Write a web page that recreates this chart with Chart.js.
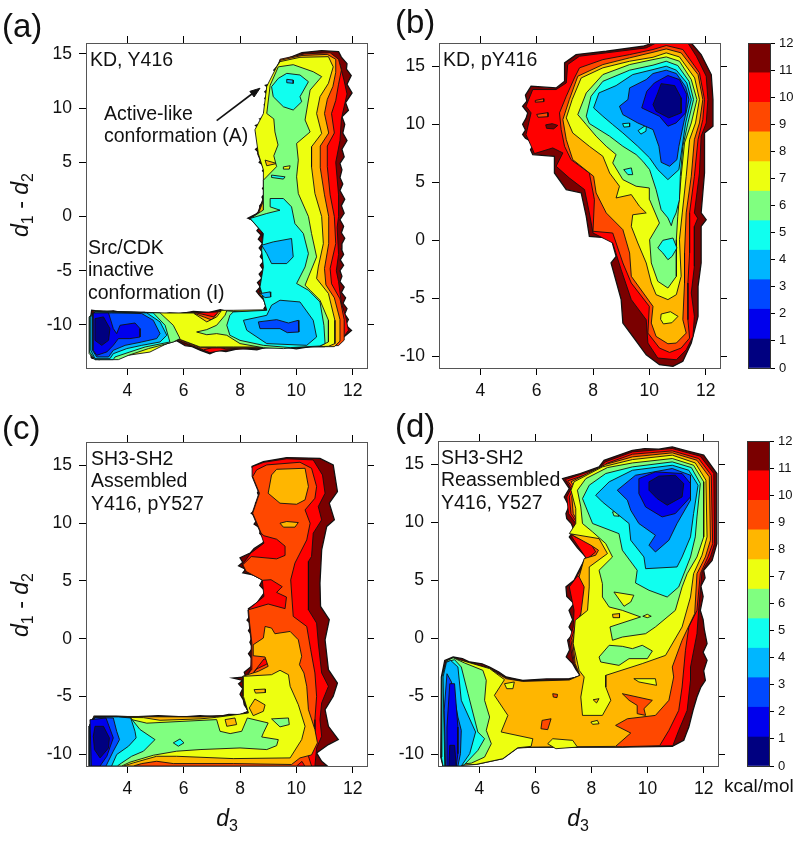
<!DOCTYPE html>
<html>
<head>
<meta charset="utf-8">
<title>Free energy landscapes</title>
<script src="https://cdn.jsdelivr.net/npm/chart.js@4"></script>
<style>
  html, body { margin: 0; padding: 0; background: #fff; }
  body { position: relative; width: 800px; height: 845px; overflow: hidden; font-family: "Liberation Sans", Arial, sans-serif; color: #111; }
  canvas { position: absolute; }
  .note { position: absolute; font-size: 19.5px; line-height: 22.3px; white-space: nowrap; }
  .letter { position: absolute; font-size: 33px; line-height: 33px; }
  .title { position: absolute; font-size: 23px; white-space: nowrap; transform: translate(-50%, -50%); }
  .title.rot { transform: translate(-50%, -50%) rotate(-90deg); }
  .title sub { font-size: 16px; }
</style>
</head>
<body>
<canvas id="chartA"></canvas>
<canvas id="chartB"></canvas>
<canvas id="chartC"></canvas>
<canvas id="chartD"></canvas>
<canvas id="barTop"></canvas>
<canvas id="barBottom"></canvas>

<div class="letter" style="left:2px;top:9px">(a)</div>
<div class="letter" style="left:395px;top:5px">(b)</div>
<div class="letter" style="left:2px;top:411px">(c)</div>
<div class="letter" style="left:395px;top:409px">(d)</div>

<div class="note" style="left:90px;top:48px">KD, Y416</div>
<div class="note" style="left:104px;top:102px">Active-like<br>conformation (A)</div>
<div class="note" style="left:88px;top:236px">Src/CDK<br>inactive<br>conformation (I)</div>
<div class="note" style="left:443px;top:48px">KD, pY416</div>
<div class="note" style="left:91px;top:447px">SH3-SH2<br>Assembled<br>Y416, pY527</div>
<div class="note" style="left:441px;top:446px">SH3-SH2<br>Reassembled<br>Y416, Y527</div>

<div class="title rot" style="left:22px;top:205px"><i>d</i><sub>1</sub> - <i>d</i><sub>2</sub></div>
<div class="title rot" style="left:22px;top:605px"><i>d</i><sub>1</sub> - <i>d</i><sub>2</sub></div>
<div class="title" style="left:227px;top:820px"><i>d</i><sub>3</sub></div>
<div class="title" style="left:578px;top:820px"><i>d</i><sub>3</sub></div>
<div class="note" style="left:724px;top:775px;font-size:19px">kcal/mol</div>

<script>
// ---------- Axes ----------
const xTicks = [4, 6, 8, 10, 12];
const xRange = [2.53, 12.51];
const yTicks = [-10, -5, 0, 5, 10, 15];
const yRangeA = [-13.97, 16];
const yRange = [-11, 17];
const barTicks = [0, 1, 2, 3, 4, 5, 6, 7, 8, 9, 10, 11, 12];
const barEdges = [0, 1.07, 2.17, 3.26, 4.35, 5.44, 6.53, 7.62, 8.72, 9.81, 10.9, 12];

// one colour per energy band, lowest first
const bandColors = ['#000080', '#0000ED', '#0048FF', '#00B6FF', '#10FFEF', '#80FF80',
  '#EDFF10', '#FFB600', '#FF4800', '#FF0000', '#7A0000'];

// ---------- Contours: [band, [x, y, x, y, ...]], painted in this order ----------
const contoursA = [
  [10, [2.72,-13.05, 3,-13.2, 3.2,-13.05, 3.5,-12.9, 4,-12.55, 4.5,-12.3, 5.1,-11.95, 5.75,-11.45, 6.05,-11.9, 6.3,-12, 6.6,-12.35, 6.93,-12.65, 7.2,-12.35, 7.5,-12.45, 8,-12.15, 8.6,-12.3, 9,-12, 9.6,-12.05, 10,-12.2, 10.5,-12, 11,-12, 11.55,-11.4, 11.96,-10.5, 11.75,-10, 11.85,-9.5, 11.72,-9, 11.8,-8.5, 11.66,-8, 11.75,-7.5, 11.6,-7, 11.7,-6.5, 11.55,-6, 11.62,-5.5, 11.55,-5, 11.68,-4.5, 11.56,-4, 11.68,-3.5, 11.6,-3, 11.62,-2.5, 11.72,-2, 11.6,-1.5, 11.68,-0.9, 11.55,-0.3, 11.7,0.3, 11.6,1, 11.72,1.6, 11.55,2.4, 11.65,3, 11.55,3.6, 11.62,4.3, 11.55,4.9, 11.7,5.5, 11.62,6.2, 11.8,7, 11.65,7.7, 11.72,8.5, 11.62,9.2, 11.85,9.8, 11.75,10.5, 11.98,11.4, 11.8,12.2, 11.95,13, 11.78,13.6, 11.8,14.1, 11.6,14.7, 11.5,15.2, 10.9,15.3, 10.2,15.1, 9.42,14.3, 9.3,13.8, 9.2,13.5, 9.36,13.2, 9.3,12.75, 9.1,12.5, 9.2,12.3, 8.9,12.1, 9.02,11.8, 8.88,11.5, 9,11.2, 8.88,10.9, 8.98,10.6, 8.86,10.3, 8.96,10, 8.86,9.6, 8.98,9.3, 8.7,9, 8.85,8.7, 8.55,8.4, 8.72,8, 8.56,7.7, 8.72,7.3, 8.62,7, 8.75,6.6, 8.55,6.2, 8.7,5.8, 8.8,5.4, 8.68,5, 8.9,4.6, 8.8,4.2, 9,3.8, 8.85,3.4, 8.95,3, 8.8,2.6, 8.9,2.2, 8.78,1.8, 8.85,1.4, 8.7,1, 8.72,0.5, 8.55,0.2, 8.28,-0.15, 8.6,-0.5, 8.72,-0.9, 8.6,-1.3, 8.75,-1.7, 8.65,-2.1, 8.8,-2.5, 8.68,-2.9, 8.8,-3.3, 8.72,-3.7, 8.85,-4.1, 8.72,-4.5, 8.82,-4.9, 8.68,-5.3, 8.78,-5.7, 8.62,-6.1, 8.72,-6.5, 8.58,-6.9, 8.7,-7.3, 8.85,-7.7, 8.95,-8.1, 8.85,-8.5, 8.95,-8.85, 8.47,-9.4, 7.9,-9.4, 7.7,-9.15, 7.53,-8.75, 7.3,-8.6, 6.9,-8.85, 6.34,-8.75, 5.9,-8.95, 5.5,-8.9, 5,-9.1, 4.6,-8.85, 4,-8.95, 3.5,-8.7, 3.2,-8.8, 2.73,-8.65, 2.66,-10, 2.66,-12]],
  [9, [2.75,-12.95, 3.2,-13, 3.6,-12.7, 4.5,-12.25, 5.75,-11.4, 6.3,-11.95, 6.93,-12.55, 7.5,-12.3, 8.6,-12.15, 10,-12.05, 11.5,-11.75, 11.85,-10.5, 11.75,-9.2, 11.6,-8, 11.5,-6, 11.42,-5, 11.5,-3.5, 11.45,-1, 11.5,0, 11.5,2, 11.4,5, 11.55,7, 11.6,9, 11.8,11.3, 11.7,12.5, 11.55,14, 11.3,14.9, 10.8,15.1, 10,14.8, 9.45,14.2, 9.32,13.8, 9.38,12.75, 8.97,12.1, 8.97,11, 8.92,9.5, 8.62,8.3, 8.72,7, 8.62,5.8, 8.85,4.3, 9,3.5, 8.87,2, 8.62,0.3, 8.32,-0.2, 8.72,-0.7, 8.77,-1.5, 8.82,-3, 8.87,-4.5, 8.72,-6.2, 8.67,-7.2, 8.95,-8, 8.95,-8.75, 8.47,-9.35, 7.9,-9.35, 7.53,-8.75, 6.8,-8.85, 6.34,-8.85, 5,-9.1, 4,-8.95, 3.2,-8.75, 2.75,-8.9, 2.68,-10]],
  [8, [2.75,-12.9, 3.2,-12.95, 3.6,-12.65, 4.5,-12.2, 5.75,-11.35, 6.3,-11.9, 6.7,-12.3, 7,-12.1, 7.3,-12.1, 7.5,-12.2, 8.6,-12.1, 10,-12.05, 11.5,-11.9, 11.7,-11.4, 11.7,-9.5, 11.55,-7.6, 11.25,-6.2, 11.2,-4.8, 11.4,-2.5, 11.35,0, 11.2,2, 11.1,4.6, 11.1,6.5, 11.35,7.7, 11.25,9.5, 11.4,10.7, 11.5,12.2, 11.6,13.5, 11.5,14.5, 11.2,15.1, 10.3,15, 9.42,14.5, 9.34,13.8, 9.4,12.75, 8.99,12.1, 8.99,11, 8.94,9.5, 8.64,8.3, 8.74,7, 8.64,5.8, 8.87,4.3, 9,3.5, 8.89,2, 8.64,0.3, 8.34,-0.2, 8.74,-0.7, 8.79,-1.5, 8.84,-3, 8.89,-4.5, 8.74,-6.2, 8.69,-7.2, 8.95,-8, 8.95,-8.7, 8.47,-9.3, 7.9,-9.3, 7.53,-8.8, 7.3,-8.75, 7.05,-9.25, 6.65,-9, 6.34,-8.85, 5,-9.1, 4,-8.95, 3.2,-8.8, 2.75,-8.95, 2.68,-10]],
  [7, [2.75,-12.85, 3.2,-12.9, 3.6,-12.6, 4.5,-12.15, 5.7,-11.2, 5.8,-11.3, 6.3,-11.8, 6.6,-12.1, 7.5,-12.1, 8.6,-12.1, 10,-12.03, 11.35,-12, 11.55,-11.5, 11.55,-9.5, 11.35,-7.5, 11.05,-6.3, 11,-4.8, 11.15,-2.5, 11.15,0, 11,2, 10.85,4.5, 10.85,6.5, 11.15,7.7, 11,9.5, 11.1,10.8, 11.3,12, 11.4,13.3, 11.4,14.5, 11.1,14.95, 10.2,14.85, 9.42,14.4, 9.36,13.8, 9.42,12.75, 9.01,12.1, 9.01,11, 8.96,9.5, 8.66,8.3, 8.76,7, 8.66,5.8, 8.89,4.3, 9,3.5, 8.91,2, 8.66,0.3, 8.36,-0.2, 8.76,-0.7, 8.81,-1.5, 8.86,-3, 8.91,-4.5, 8.76,-6.2, 8.71,-7.2, 8.95,-8, 8.95,-8.65, 8.47,-9.25, 7.9,-9.25, 7.53,-8.8, 7.25,-8.75, 7,-9.55, 6.75,-9.3, 6.3,-8.85, 5,-9.1, 4,-9, 3.2,-8.85, 2.75,-9, 2.68,-10]],
  [6, [9.42,14.28, 10.13,14.68, 11.14,14.74, 11.31,13.8, 11.14,12.28, 10.84,11.05, 10.72,9.5, 10.9,7.66, 10.54,6.43, 10.54,4.58, 10.66,2.12, 10.9,0, 10.96,-2.5, 10.78,-4.65, 10.72,-5.72, 11.14,-7.1, 11.37,-9.57, 11.37,-11.72, 11.14,-11.97, 9.54,-12.05, 8.47,-12.03, 7.76,-12.03, 7.17,-12.03, 6.58,-12.03, 6.11,-11.57, 5.63,-11.1, 5.4,-11.72, 4.8,-12.5, 3.5,-13, 2.85,-13.1, 2.67,-12.6, 2.67,-9.26, 2.85,-8.7, 4.2,-8.8, 5.4,-8.9, 6.34,-8.9, 6.82,-9.72, 7.17,-9.26, 7.35,-8.65, 7.76,-8.65, 8.95,-8.6, 8.71,-6.5, 8.83,-4.65, 8.83,3.66, 8.83,4.3, 8.65,5.8, 8.53,8, 8.83,9.5, 8.95,12, 9.3,13.8]],
  [7, [8.89,5.2, 9.3,4.89, 8.95,4.68]],
  [5, [9.36,13.8, 9.89,14, 10.6,13.35, 10.9,12.9, 10.49,11.66, 10.43,10.74, 10.31,8.9, 10.49,7.8, 10.01,6.74, 10.07,5.2, 10.01,3.66, 10.07,2.12, 10.43,0, 10.54,-1.57, 10.72,-3.72, 10.43,-5.57, 10.31,-6.34, 10.49,-6.8, 10.84,-7.72, 11.14,-9.57, 11.14,-11.57, 10.84,-11.94, 9.54,-12.18, 8.83,-12.1, 8,-11.72, 7.53,-10.95, 7.17,-10.8, 6.82,-10.9, 6.46,-10.65, 6.82,-10.43, 7.17,-10.03, 7.47,-9.1, 7.53,-8.7, 8,-8.8, 8.95,-8.65, 8.71,-6.5, 8.83,-4.65, 8.77,-3.1, 8.83,-1.57, 8.36,-0.2, 8.83,0.6, 8.83,1.8, 8.83,3.35, 9.3,4.6, 9.2,5.6, 9.35,6.6, 9.24,7.8, 9.2,9, 8.95,9.5, 9.07,12.1]],
  [5, [5.16,-8.89, 5.63,-10.03, 5.87,-11.26, 5.63,-11.57, 4.75,-12.18, 4.04,-12.8, 3.68,-13.2, 2.85,-13.2, 2.64,-12.64, 2.64,-9.26, 2.85,-8.7]],
  [6, [9.54,4.58, 9.78,4.68, 9.75,4.37, 9.56,4.37]],
  [4, [9.12,3.82, 9.6,3.66, 9.54,3.45, 9.12,3.6]],
  [4, [9.12,11.97, 9.36,12.74, 9.66,13.2, 10.13,13.05, 10.43,12.43, 10.13,11.05, 10.19,10.58, 9.89,9.82, 9.54,10.12, 9.18,11.05]],
  [4, [9.07,1.66, 9.54,1.66, 9.83,0.89, 9.95,-0.65, 10.25,-1.57, 10.43,-3.42, 10.31,-4.65, 10.01,-6.18, 10.43,-6.8, 10.84,-7.88, 10.98,-10.03, 11.02,-11.72, 10.84,-11.94, 9.78,-12.09, 8.83,-11.88, 8,-11.42, 7.64,-10.95, 7.53,-10.03, 7.64,-9.11, 7.76,-8.8, 8.95,-8.65, 8.71,-6.49, 8.83,-4.65, 8.77,-3.11, 8.83,-1.57, 8.36,-0.18, 8.95,0.28, 9.42,0.58, 9.07,0.89]],
  [4, [4.92,-8.89, 5.34,-10.03, 5.51,-11.57, 4.63,-12.03, 4.09,-12.49, 3.56,-12.95, 3.5,-13.2, 2.85,-13.2, 2.66,-12.5, 2.66,-9.3, 2.85,-8.75]],
  [3, [9.66,12.65, 9.89,12.58, 9.89,12.28, 9.66,12.34]],
  [3, [8.77,-2.65, 9.18,-2.34, 9.83,-2.03, 9.89,-3.72, 9.66,-4.34, 9.12,-4.34, 8.95,-3.42]],
  [3, [8.71,-7.11, 9.07,-6.95, 9.09,-7.42, 8.89,-7.48]],
  [3, [9.42,-7.72, 10.13,-7.88, 10.6,-9.57, 10.72,-11.11, 10.37,-11.88, 8.95,-11.72, 8.24,-10.49, 8.12,-9.57, 8.95,-9.11, 9.12,-8.18]],
  [3, [4.69,-8.89, 5.16,-9.72, 5.4,-10.95, 5.16,-11.57, 4.51,-11.88, 3.98,-12.18, 3.5,-12.65, 3.38,-13.11, 2.85,-13.11, 2.7,-12.34, 2.7,-9.26, 2.85,-8.8]],
  [2, [8.65,-9.72, 9.3,-9.51, 9.72,-9.82, 10.07,-9.57, 10.09,-10.65, 9.68,-10.71, 9.42,-10.34, 8.71,-10.34]],
  [2, [2.76,-8.95, 3.44,-8.89, 4.51,-8.95, 4.92,-9.57, 5.16,-10.8, 5.04,-11.26, 4.51,-11.57, 3.92,-11.88, 3.5,-12.34, 3.33,-12.95, 2.91,-12.95, 2.76,-12.34]],
  [1, [2.79,-8.89, 3.33,-8.89, 3.5,-10.34, 3.62,-10.8, 3.74,-10.03, 4.27,-9.82, 4.45,-10.34, 4.45,-11.11, 4.09,-11.26, 3.68,-11.26, 3.5,-11.88, 3.27,-12.49, 2.91,-12.8, 2.79,-12.34]],
  [0, [2.85,-9.42, 3.15,-9.26, 3.38,-10.34, 3.33,-11.42, 3.09,-11.88, 2.85,-11.42]],
];

const contoursB = [
  [10, [11.49,17, 11.84,16, 12.2,14.28, 12.26,12.13, 12.26,9.83, 11.96,9.25, 11.96,5.8, 11.84,2.36, 12.02,1.78, 11.84,1.2, 11.84,-1.95, 11.73,-3.97, 11.73,-6.55, 11.49,-8.85, 11.19,-10.43, 10.84,-10.86, 10.36,-10.72, 9.89,-9.86, 9.41,-8.28, 9.06,-7.13, 9,-5.11, 8.64,-1.95, 8.82,-1.38, 8.64,0.2, 7.87,0.34, 7.76,2.07, 7.58,4.08, 7.05,4.37, 6.63,5.8, 6.63,7.24, 5.86,7.39, 5.78,7.8, 5.9,8.39, 5.6,8.8, 5.5,9.11, 5.6,9.5, 5.5,10, 5.62,10.5, 5.68,10.98, 5.5,11.55, 5.65,12, 5.6,12.5, 5.8,13.28, 6.69,13.13, 6.99,13.7, 6.99,15.29, 7.4,16, 8.47,16.29, 9.77,16.72, 10.13,17]],
  [9, [11.37,17, 11.67,15.86, 12.02,14.14, 12.08,12.13, 12.02,10.11, 11.84,8.97, 11.78,5.8, 11.6,2.36, 11.72,1.9, 11.6,1.2, 11.6,-2.24, 11.49,-4.54, 11.6,-6.55, 11.55,-8.28, 11.31,-9.43, 10.96,-10.29, 10.3,-10.14, 9.95,-8.85, 9.89,-6.84, 9.36,-5.11, 9,-2.53, 8.7,-0.23, 8,0.63, 7.87,2.36, 7.7,4.37, 7.16,5.37, 6.69,6.38, 6.93,7.53, 6.57,7.96, 5.92,7.47, 5.62,9.11, 5.8,10.98, 5.62,11.55, 5.86,12.99, 6.69,12.99, 7.05,13.56, 7.1,15.14, 7.52,15.86, 8.47,16.15, 9.89,16.58, 10.24,17]],
  [10, [6.32,9.95, 6.55,10.05, 6.75,9.9, 6.6,9.6, 6.35,9.65]],
  [8, [5.95,12.05, 6.25,12.2, 6.25,11.95, 5.95,11.9]],
  [8, [6,10.85, 6.4,11, 6.4,10.65, 6.05,10.6]],
  [8, [11.19,16.44, 11.78,14.43, 11.96,12.13, 11.9,10.4, 11.73,8.68, 11.6,5.52, 11.43,2.36, 11.43,-1.09, 11.37,-3.68, 11.37,-6.84, 11.43,-8.42, 11.13,-9.28, 10.72,-9.66, 10.36,-9.28, 9.95,-7.99, 10,-5.69, 9.36,-3.68, 9.06,-1.95, 8.7,0.63, 8,0.78, 8.05,3.5, 7.87,5.8, 7.22,6.95, 6.99,8.1, 6.87,9.54, 6.81,10.98, 7.05,12.41, 7.34,13.99, 7.52,14.86, 8.35,15.57, 9.3,16, 10.13,16.44, 10.6,16.78]],
  [7, [10.6,16.49, 11.13,16.15, 11.73,14.28, 11.9,12.13, 11.78,10.11, 11.6,8.68, 11.49,5.52, 11.31,2.36, 11.25,-1.09, 11.25,-3.68, 11.19,-6.84, 11.31,-7.99, 10.96,-8.85, 10.66,-8.91, 10.24,-8.28, 10.07,-7.13, 10.13,-5.69, 9.36,-3.1, 9.3,-1.09, 9.06,0.92, 8.47,2.36, 8.11,4.08, 8.02,5.52, 7.28,6.95, 7.05,8.68, 6.93,10.4, 7.16,12.13, 7.46,14.14, 8.35,15.14, 9.3,15.72, 10.13,16.2]],
  [6, [10.6,16.15, 11.07,15.8, 11.61,13.99, 11.78,12.13, 11.64,10.11, 11.43,8.68, 11.31,5.52, 11.17,2.36, 11.07,0.06, 11.13,-3.1, 10.96,-4.68, 10.66,-5.11, 10.24,-4.68, 10.07,-3.68, 9.89,-1.95, 9.59,-0.23, 9.36,1.2, 9.41,2.2, 9.89,2.36, 9.65,2.93, 9.36,3.94, 8.82,3.65, 8.94,4.66, 8.59,5.8, 8.35,7.24, 7.87,8.1, 7.28,9.25, 7.05,10.55, 7.26,12.13, 7.58,13.99, 8.35,14.86, 9.3,15.43, 10.13,15.77]],
  [6, [10.42,-6.35, 10.75,-6.15, 11.02,-6.55, 10.8,-7.1, 10.5,-7.2, 10.4,-6.8]],
  [5, [10.6,15.8, 11.07,15.43, 11.49,13.85, 11.69,12.13, 11.49,10.11, 11.25,8.39, 11.13,5.52, 11.01,2.07, 10.96,0.06, 10.96,-3.1, 10.66,-4.11, 10.3,-3.53, 10.07,-1.95, 10.01,0.06, 10.36,1.49, 10.01,3.5, 10,4.51, 9.53,4.66, 9.06,5.23, 8.7,6.67, 8.82,7.39, 8.47,8.1, 8.11,8.97, 7.76,9.97, 7.46,10.83, 7.76,12.7, 8.35,14.28, 9.3,15.14, 10.13,15.57]],
  [4, [10.6,15.43, 11.01,15.06, 11.41,13.7, 11.57,12.13, 11.37,10.11, 11.19,8.1, 11.1,5.52, 11.07,3.5, 10.95,2.36, 10.84,1.78, 10.78,1.26, 10.66,1.93, 10.42,2.64, 10.24,4.37, 10.01,6.09, 9.77,6.81, 9.53,7.39, 9.06,8.1, 8.59,8.97, 7.87,10.06, 7.76,10.69, 7.93,12.41, 8.35,13.7, 9.3,14.66, 10.13,15.09]],
  [4, [10.48,0, 10.84,0.2, 10.98,-0.66, 10.81,-1.38, 10.66,-1.67, 10.48,-1.09, 10.3,-0.66]],
  [4, [9.09,6.09, 9.36,6.24, 9.41,5.66, 9.24,5.66]],
  [3, [10.6,15, 10.96,14.66, 11.33,13.56, 11.49,12.13, 11.29,10.11, 11.17,8.1, 11.05,6.09, 10.66,5.23, 10.3,6.09, 10.01,7.1, 9.59,8.1, 9.06,9.25, 8.7,9.97, 8.35,10.69, 8.02,11.41, 8.21,12.7, 8.82,13.33, 9.41,14.28, 10.13,14.71]],
  [4, [9.05,10.05, 9.3,10.1, 9.3,9.8, 9.1,9.75]],
  [4, [9.6,9.45, 9.9,9.95, 9.88,9.4, 9.7,9.15]],
  [2, [10.6,14.66, 10.96,14.37, 11.29,13.22, 11.41,12.13, 11.22,10.11, 11.05,8.1, 10.98,6.95, 10.72,6.38, 10.42,6.72, 10.34,8.1, 10.13,9.54, 9.59,10.11, 9.06,10.83, 8.94,11.55, 9.24,12.13, 9.3,13.13, 9.89,13.85, 10.13,14.37]],
  [1, [10.66,14.2, 11.07,13.85, 11.33,12.56, 11.29,10.98, 10.95,10.11, 10.66,9.83, 10.36,10.69, 9.73,11.41, 9.91,12.84, 10.18,13.56]],
  [0, [10.42,13.5, 10.9,13.33, 11.13,12.27, 11.13,10.98, 10.69,10.55, 10.24,11.12, 10.13,11.69, 10.3,12.7]],
];

const contoursC = [
  [10, [8.41,14.87, 8.83,15.3, 9.66,15.65, 10.84,15.59, 11.31,15.02, 11.46,12.72, 11.17,11.71, 11.35,10.27, 11.08,9.7, 10.9,7.68, 10.84,4.8, 10.86,2.79, 11.17,1.64, 11.02,-0.09, 11.14,-2.68, 11.46,-3.83, 11.31,-4.98, 11.02,-6.13, 11.14,-7.57, 11.49,-8.72, 11.14,-9.15, 10.72,-9.87, 10.9,-10.59, 11.1,-11, 2.65,-11, 2.65,-7.57, 2.82,-6.7, 3.6,-6.7, 4.21,-6.75, 5.1,-6.65, 6,-6.75, 6.58,-6.65, 7.2,-6.75, 7.6,-6.55, 8,-6.56, 8.3,-6.27, 8.15,-5.7, 8.12,-5.3, 8,-4.8, 8.1,-4.3, 7.95,-3.9, 8.1,-3.6, 7.75,-3.4, 8.2,-3.3, 8.15,-2.9, 8.4,-2.4, 8.45,-1.8, 8.3,-1.3, 8.45,-0.8, 8.35,-0.3, 8.45,0.2, 8.3,0.7, 8.42,1.2, 8.25,1.6, 8.4,2.1, 8.3,2.6, 8.6,3.1, 8.75,3.6, 8.9,4.1, 8.7,4.6, 8.8,5.1, 8.5,5.5, 8.1,5.7, 8.2,6, 7.95,6.3, 8.1,6.6, 8,7, 8.36,7.4, 8.5,7.8, 8.8,8.26, 8.9,8.6, 8.7,9.1, 8.75,9.5, 8.5,9.9, 8.65,10.4, 8.4,10.85, 8.6,11.2, 8.55,11.7, 8.72,12.1, 8.62,12.6, 8.75,13.1, 8.6,13.6, 8.45,14.01, 8.62,14.5]],
  [9, [8.43,14.87, 8.85,15.25, 9.66,15.55, 10.6,15.45, 10.93,14.15, 11.02,12.57, 10.78,11.42, 10.9,10.27, 10.6,9.12, 10.54,7.11, 10.43,6.67, 10.43,2.5, 10.72,1.35, 10.78,-0.37, 10.9,-2.96, 11.14,-4.11, 10.9,-5.55, 10.84,-6.99, 10.9,-8.43, 10.72,-9.44, 10.66,-11, 2.65,-11, 2.65,-7.57, 2.82,-6.72, 6.58,-6.72, 8,-6.58, 8.28,-6.3, 8.08,-4.98, 8.14,-3.54, 8.38,-2.68, 8.4,-0.37, 8.32,1.35, 8.28,2.5, 8.85,3.65, 8.79,5.09, 8.2,5.81, 8.08,6.39, 8.38,7.39, 8.85,8.26, 8.73,9.12, 8.43,10.85, 8.67,12.57, 8.43,14.01]],
  [8, [8.59,14.59, 8.95,15.02, 10.13,15.25, 10.54,14.73, 10.72,13.15, 10.66,12.14, 10.31,11.13, 10.49,9.98, 10.37,8.54, 9.95,6.53, 9.8,5.09, 9.89,1.93, 10.37,1.06, 10.51,-0.95, 10.66,-2.96, 10.72,-4.98, 10.66,-6.99, 10.66,-9, 10.43,-10.16, 10.54,-11, 10.3,-11, 10.2,-10.6, 10.01,-11, 2.65,-11, 2.65,-7.57, 2.82,-6.74, 6.58,-6.74, 8,-6.6, 8.28,-6.32, 8.1,-4.98, 8.16,-3.54, 8.4,-2.68, 8.42,-0.37, 8.34,1.35, 8.3,2.5, 9,3, 9.6,2.6, 9.65,3.6, 9.3,4, 9.5,4.5, 9.1,5.1, 8.8,5.05, 8.22,5.81, 8.1,6.39, 8.4,7.1, 9.3,6.9, 9.6,7.2, 9.6,8, 9.3,8.6, 8.85,8.9, 8.75,9.12, 8.45,10.85, 8.69,12.57, 8.45,14.01]],
  [9, [8.47,-2.95, 8.85,-1.75, 9.05,-1.85, 8.95,-2.2, 8.6,-2.6]],
  [7, [9.12,14.15, 9.3,14.64, 10.31,14.73, 10.43,13.15, 10.31,12, 10.01,11.62, 9.42,11.71, 9,12.57]],
  [7, [9.42,9.98, 9.66,10.13, 10.07,10.04, 9.95,9.64, 9.54,9.64]],
  [7, [8.89,1.06, 9.12,0.92, 9.24,0.43, 9.78,0.63, 10.07,-0.09, 10.19,-1.52, 10.11,-2.24, 10.27,-2.96, 10.37,-4.11, 10.43,-6.13, 10.66,-7.85, 10.75,-9, 10.54,-10.04, 10.13,-10.3, 9.83,-10.87, 7.76,-10.79, 5.63,-10.79, 5.04,-10.59, 4.51,-10.79, 4.21,-11, 2.65,-11, 2.65,-7.57, 2.82,-6.73, 6.58,-6.76, 8,-6.65, 8.3,-6.36, 8.09,-4.98, 8.09,-3.25, 8.65,-2.82, 9,-2.39, 8.89,-1.58, 8.47,-1.47, 8.47,-0.52, 8.83,0.06]],
  [6, [8.12,-3.25, 9.12,-3.11, 9.42,-2.73, 9.72,-3.11, 9.78,-4.11, 10.07,-5.7, 10.31,-7.57, 10.19,-8.72, 9.78,-10.3, 7.76,-10.36, 5.75,-10.16, 5.04,-10.16, 4.21,-10.73, 3.86,-11, 2.65,-11, 2.65,-7.57, 2.85,-6.76, 4.57,-6.82, 5.16,-7.05, 6.58,-6.93, 7.17,-6.79, 8.3,-6.42, 8.12,-4.98]],
  [7, [8.33,-5.98, 8.53,-5.21, 8.89,-5.72, 8.83,-6.27, 8.47,-6.65]],
  [7, [7.47,-6.99, 7.82,-6.85, 7.88,-7.42, 7.53,-7.57]],
  [7, [8.5,-4.4, 8.9,-4.35, 8.9,-4.65, 8.55,-4.7]],
  [5, [4.15,-6.99, 4.69,-7.3, 7.17,-6.99, 7.29,-8, 7.65,-8.2, 8.06,-8, 8.26,-6.85, 9,-7.28, 8.83,-8.14, 8.77,-8.49, 9.36,-8.72, 9.3,-9.24, 8.95,-9.58, 8,-9.44, 6.58,-9.58, 5.75,-9.72, 4.92,-10.07, 4.09,-10.67, 3.8,-11, 2.65,-11, 2.65,-7.57, 2.85,-6.76]],
  [5, [9.12,-6.93, 9.72,-6.85, 9.75,-7.42, 9.42,-7.62]],
  [4, [4.12,-6.85, 4.45,-7.85, 4.98,-8.72, 4.57,-9.72, 4.15,-10.16, 3.8,-10.73, 3.64,-11, 2.65,-11, 2.65,-7.57, 2.85,-6.76]],
  [4, [5.63,-9, 5.87,-8.66, 6.01,-9, 5.81,-9.29]],
  [3, [3.68,-6.76, 4.12,-6.85, 4.27,-8, 4.31,-8.57, 4.04,-9.29, 3.62,-10.01, 3.44,-11, 2.65,-11, 2.65,-7.57, 2.85,-6.76]],
  [2, [3.5,-6.85, 3.62,-8, 3.72,-8.72, 3.5,-9.72, 3.24,-11, 2.67,-11, 2.67,-7.57, 2.85,-6.8]],
  [1, [3.24,-6.85, 3.5,-8.57, 3.27,-10.16, 3.03,-11, 2.72,-11, 2.67,-7]],
  [0, [2.85,-7.57, 3.15,-7.57, 3.36,-8.57, 3.33,-9.44, 3.03,-10.3, 2.83,-9.58, 2.79,-8.43]],
];

const contoursD = [
  [10, [9.46,16.2, 9.9,16.35, 10.4,16.3, 10.88,16.49, 11.4,16.15, 12,15.78, 12.47,14.2, 12.47,8.16, 12.3,6.72, 12,5.86, 12.05,5.2, 11.9,4.5, 11.98,3.6, 11.88,2.41, 11.98,1.6, 12.02,0.8, 12.12,-0.46, 11.98,-1.2, 12.12,-1.9, 12,-2.8, 12.06,-3.62, 11.9,-4.2, 11.76,-5.06, 11.62,-6.2, 11.47,-7.64, 11.38,-8.2, 11.29,-8.79, 10.88,-9.31, 9.1,-9.37, 5.91,-9.37, 5.37,-9.43, 4.84,-10.37, 3.89,-10.86, 2.71,-11, 2.63,-10.23, 2.65,-3.33, 2.77,-1.9, 3.07,-1.61, 3.4,-1.75, 3.66,-2.04, 4.1,-2.2, 4.37,-2.47, 4.7,-2.9, 4.96,-3.33, 5.2,-3.45, 5.55,-3.62, 6.4,-3.5, 7.21,-3.48, 7.62,-3.28, 7.45,-2.7, 7.33,-2.18, 7.1,-1.6, 7.22,-1, 7.15,-0.17, 7.35,0.4, 7.2,0.98, 7.33,1.6, 7.2,2.41, 7.38,3, 7.12,3.6, 7.09,4.43, 7.38,5, 7.5,5.57, 7.65,6.3, 7.8,7.01, 7.5,7.8, 7.21,8.74, 7.38,9.3, 7.28,9.89, 7.12,10.3, 7.09,10.75, 7.2,11.4, 7.03,12.18, 7.21,12.9, 6.97,13.76, 7.6,14.2, 8.27,14.77, 8.45,15.34]],
  [9, [9.46,16.06, 10.88,16.35, 11.88,15.69, 12.36,14.2, 12.39,8.16, 12.24,7.01, 11.94,5.72, 11.82,2.41, 11.76,0.4, 11.53,-2.47, 11.53,-3.62, 11.41,-6.21, 11.11,-7.93, 10.9,-9.25, 9.1,-9.34, 5.91,-9.34, 5.37,-9.4, 4.84,-10.32, 3.89,-10.8, 2.77,-11, 2.69,-10.23, 2.71,-3.33, 2.83,-1.95, 3.07,-1.7, 3.66,-2.13, 4.37,-2.56, 4.96,-3.39, 5.55,-3.68, 7.21,-3.53, 7.59,-3.22, 7.36,-2.18, 7.21,-0.17, 7.35,0.98, 7.38,2.41, 7.21,4.43, 7.56,5.57, 7.82,6.87, 7.3,8.74, 7.44,9.89, 7.18,10.75, 7.12,12.18, 7.27,12.9, 7.07,13.68, 8.3,14.68, 8.49,15.2]],
  [8, [9.46,15.86, 10.88,16.15, 11.82,15.49, 12.27,14.05, 12.32,8.16, 12.15,7.01, 11.88,5.57, 11.76,2.41, 11.47,0.98, 11.35,-1.03, 11.23,-4.2, 11.11,-6.21, 10.76,-7.93, 10.43,-9.25, 9.1,-9.34, 5.91,-9.34, 5.37,-9.4, 4.84,-10.32, 3.89,-10.8, 2.77,-11, 2.69,-10.23, 2.71,-3.33, 2.83,-1.95, 3.07,-1.72, 3.66,-2.15, 4.37,-2.58, 4.96,-3.42, 5.55,-3.69, 7.21,-3.56, 7.59,-3.2, 7.39,-2.18, 7.27,-0.17, 7.42,0.98, 7.62,2.13, 7.92,3.28, 7.8,4.71, 7.5,5.43, 7.86,6.87, 8.15,7.44, 7.98,8.16, 7.38,8.79, 7.5,9.89, 7.27,10.75, 7.21,12.18, 7.35,12.9, 7.15,13.56, 8.34,14.54, 8.53,15.06]],
  [7, [8.51,14.99, 9.46,15.63, 10.88,15.98, 11.76,15.34, 12.2,13.91, 12.24,8.45, 12.06,7.01, 11.76,5.57, 11.68,2.13, 11.23,-0.17, 10.88,-2.47, 10.93,-3.33, 10.76,-5.34, 10.28,-6.64, 9.28,-6.93, 8.86,-7.5, 9.4,-8.16, 8.86,-9.31, 5.91,-9.37, 5.37,-9.43, 4.84,-10.32, 3.89,-10.8, 2.77,-11, 2.69,-10.23, 2.73,-3.33, 2.85,-2.04, 3.07,-1.75, 3.66,-2.18, 4.37,-2.61, 4.96,-3.48, 5.55,-3.71, 7.21,-3.59, 7.59,-3.19, 7.42,-2.18, 7.33,-0.17, 7.5,0.98, 7.62,2.07, 7.74,4.43, 7.56,5.29, 7.74,6.87, 8.15,7.16, 8.25,7.59, 7.98,8.02, 7.33,8.88, 7.54,9.89, 7.35,10.75, 7.3,12.18, 7.44,12.9, 7.27,13.48]],
  [8, [9.1,-4.77, 10.17,-5.34, 9.87,-6.06, 9.93,-6.64, 9.63,-6.49, 9.63,-5.78, 9.34,-5.34]],
  [8, [6.24,-7.07, 6.56,-6.93, 6.44,-7.87, 6.2,-7.79]],
  [8, [6.62,-4.77, 6.79,-4.83, 6.77,-5.11, 6.64,-5.06]],
  [6, [8.39,14.77, 9.46,15.4, 10.88,15.78, 11.7,15.11, 12.08,13.62, 12.12,8.74, 11.94,7.16, 11.64,5.57, 11.53,3.56, 11.23,0.98, 10.64,-1.47, 9.81,-2.18, 8.51,-3.19, 8.51,-4.2, 8.69,-5.34, 8.39,-6.64, 7.68,-6.64, 7.62,-5.06, 7.74,-3.33, 7.56,-2.76, 7.35,-0.46, 7.42,1.55, 7.86,2.41, 7.92,4.43, 7.92,6.15, 8.57,7.3, 8.27,8.59, 7.21,9.02, 7.44,9.89, 7.44,11.18, 7.27,12.76, 7.38,13.48]],
  [6, [3.44,-1.95, 4.37,-2.61, 4.9,-3.56, 4.54,-4.91, 5.02,-6.64, 4.78,-8.07, 5.91,-8.65, 5.85,-9.31, 5.37,-9.43, 4.84,-10.37, 3.89,-10.86, 2.75,-11, 2.65,-10.23, 2.67,-3.33, 2.83,-1.95, 3.07,-1.67]],
  [6, [9.51,-3.48, 10.28,-3.48, 10.32,-4.05, 9.69,-3.76]],
  [6, [6.44,-9.08, 6.62,-8.65, 7.33,-8.79, 7.5,-9.37, 6.73,-9.51]],
  [6, [7.98,-7.21, 8.21,-7.07, 8.27,-7.36, 8.04,-7.41]],
  [6, [4.9,-3.91, 5.25,-3.76, 5.2,-4.34, 4.98,-4.34]],
  [7, [8.75,2.07, 9,2.13, 9,1.78, 8.77,1.78]],
  [7, [8.06,-5.29, 8.27,-5.2, 8.18,-5.57]],
  [5, [7.8,13.76, 8.57,14.71, 9.46,15.11, 10.88,15.49, 11.64,14.91, 12,13.48, 12,8.74, 11.76,7.01, 11.41,5.57, 11.23,4.43, 10.99,2.41, 10.28,0.98, 9.93,0.4, 9.1,0.11, 8.75,-0.17, 8.66,0.98, 9.75,1.84, 9.1,2.41, 8.63,2.7, 8.39,3.56, 8.39,4.71, 8.27,5.86, 8.75,7.01, 8.51,8.16, 8.04,9.17, 7.68,9.89, 7.62,11.32, 7.5,12.76]],
  [5, [8.63,-0.6, 9.1,-0.69, 9.46,-0.89, 9.81,-0.6, 10.17,-1.09, 9.99,-1.75, 9.34,-1.75, 8.98,-2.33, 8.33,-2.04, 8.27,-1.61]],
  [5, [3.48,-2.13, 4.13,-2.76, 4.25,-3.62, 4.19,-5.34, 4.37,-6.78, 4.25,-7.93, 4.43,-9.08, 4.19,-10.23, 3.72,-10.75, 2.71,-11, 2.65,-10.23, 2.67,-3.33, 2.83,-1.95, 3.07,-1.67]],
  [6, [8.8,3.99, 9.51,3.71, 9.4,3.13, 9.16,2.76]],
  [6, [9.83,1.9, 9.99,2.07, 10.13,1.9, 9.99,1.78]],
  [4, [7.68,12.04, 7.92,13.19, 8.51,14.2, 9.46,14.77, 10.88,15.2, 11.56,14.71, 11.88,13.33, 11.76,10.46, 11.7,8.74, 11.53,7.01, 11.11,4.43, 10.7,3.56, 10.05,4.14, 9.57,4.77, 9.63,5.86, 9.1,7.59, 8.98,9.02, 8.04,9.89, 7.8,11.32]],
  [5, [8.75,10.89, 8.96,10.98, 8.98,10.52, 8.8,10.55]],
  [4, [3.12,-1.84, 3.36,-2.47, 3.6,-4.77, 3.95,-8.07, 4.19,-8.65, 3.95,-9.66, 3.48,-10.86, 3.36,-11, 2.71,-11, 2.65,-10.23, 2.67,-3.33, 2.83,-2.04]],
  [3, [2.98,-1.9, 3.24,-2.47, 3.36,-5.34, 3.87,-8.07, 3.66,-9.94, 3.36,-11, 2.77,-11, 2.71,-3.33, 2.83,-2.07]],
  [3, [8.15,12.33, 8.63,13.48, 9.46,14.48, 10.88,14.91, 11.47,14.48, 11.8,13.19, 11.64,10.75, 11.53,8.74, 11.23,7.01, 11.05,6.15, 9.93,6, 9.87,7.01, 9.4,8.45, 9.34,9.89, 8.39,11.75]],
  [2, [8.92,12.76, 9.57,14.05, 10.88,14.63, 11.53,14.05, 11.53,11.9, 11.05,9.89, 10.76,8.45, 10.28,7.44, 10.05,8.02, 10.28,8.88, 9.69,9.89, 9.4,11.03, 9.28,11.9]],
  [2, [2.85,-3.05, 3.01,-3.76, 3.24,-6.78, 3.36,-7.93, 3.33,-9.94, 3.24,-11, 2.8,-11, 2.75,-6.21]],
  [1, [2.95,-3.91, 3.12,-3.91, 3.24,-7.64, 3.24,-9.94, 3.18,-11, 2.85,-11, 2.85,-7.64]],
  [0, [2.95,-9.22, 3.12,-9.22, 3.18,-11, 2.92,-11]],
  [1, [9.69,13.76, 10.28,14.34, 11.23,14.2, 11.53,13.33, 11.53,12.18, 10.99,10.75, 10.52,10.46, 9.93,11.32, 9.69,12.47]],
  [0, [10.05,13.48, 10.4,13.97, 10.99,14.05, 11.29,13.33, 11.23,12.18, 10.7,11.47, 10.34,12.04, 10.05,12.76]],
];

// arrow in panel (a), pointing at the active-like basin
const arrowShaft = [7.17, 8.84, 8.55, 11.55];
const arrowHead = [8.71, 11.83, 8.5, 11.02, 8.35, 11.54];

// ---------- Helpers ----------
function toPoints(flat, close) {
  const pts = [];
  for (let i = 0; i < flat.length; i += 2) pts.push({ x: flat[i], y: flat[i + 1] });
  if (close) pts.push(pts[0]);
  return pts;
}

function contourDataset(band, flat, i, count) {
  return {
    data: toPoints(flat, true),
    showLine: true,
    fill: 'shape',
    backgroundColor: bandColors[band],
    borderColor: '#111',
    borderWidth: i === 0 ? 1.3 : 0.9, // the rim reads heavier in the reference
    pointRadius: 0,
    tension: 0,
    order: count - i,
  };
}

// place = where the canvas sits on the page, axes = room kept for each axis around the plot box
function sizeCanvas(id, place) {
  const el = document.getElementById(id);
  el.width = place.w;
  el.height = place.h;
  el.style.left = place.x + 'px';
  el.style.top = place.y + 'px';
  el.style.width = place.w + 'px';
  el.style.height = place.h + 'px';
  return el;
}

function linearAxis(position, range, ticks, axes, showLabels, fontSize, tickLength) {
  const horizontal = position === 'top' || position === 'bottom';
  return {
    type: 'linear',
    position,
    min: range[0],
    max: range[1],
    afterBuildTicks: (axis) => { axis.ticks = ticks.map(v => ({ value: v })); },
    afterFit: (axis) => {
      if (horizontal) axis.height = axes[position];
      else axis.width = axes[position];
    },
    border: { display: true, color: '#555', width: 1, z: 1 },
    grid: { drawOnChartArea: false, drawTicks: true, tickLength, color: '#000', tickColor: '#000', tickWidth: 1 },
    ticks: {
      display: showLabels,
      autoSkip: false,
      maxRotation: 0,
      padding: horizontal ? 6 : 7,
      color: '#111',
      font: { family: '"Liberation Sans", Arial, sans-serif', size: fontSize },
      callback: (v) => String(v),
    },
  };
}

function contourChart(id, contours, yLimits, place, axes, extras) {
  const datasets = contours.map((c, i) => contourDataset(c[0], c[1], i, contours.length + 2));
  return new Chart(sizeCanvas(id, place), {
    type: 'scatter',
    data: { datasets: datasets.concat(extras || []) },
    options: {
      responsive: false,
      animation: false,
      events: [],
      plugins: { legend: { display: false }, tooltip: { enabled: false } },
      scales: {
        x: linearAxis('bottom', xRange, xTicks, axes, true, 17.5, 7),
        x2: linearAxis('top', xRange, xTicks, axes, false, 17.5, 7),
        y: linearAxis('left', yLimits, yTicks, axes, true, 17.5, 7),
        y2: linearAxis('right', yLimits, yTicks, axes, false, 17.5, 7),
      },
    },
  });
}

function colorBar(id, place, axes) {
  const datasets = bandColors.map((color, k) => ({
    data: [[barEdges[k], barEdges[k + 1]]],
    backgroundColor: color,
    borderWidth: 0,
    barPercentage: 1,
    categoryPercentage: 1,
    grouped: false,
  }));
  const edgeAxis = (position) => ({
    type: 'category',
    position,
    afterFit: (axis) => { axis.height = axes[position]; },
    border: { display: true, color: '#333', width: 1, z: 1 },
    grid: { drawOnChartArea: false, drawTicks: false },
    ticks: { display: false },
  });
  const leftAxis = linearAxis('left', [0, 12], barTicks, axes, false, 13, 0);
  leftAxis.grid = { drawOnChartArea: false, drawTicks: false };
  leftAxis.border.color = '#333';
  const rightAxis = linearAxis('right', [0, 12], barTicks, axes, true, 13, 5);
  rightAxis.ticks.padding = 4;
  rightAxis.border.color = '#333';
  return new Chart(sizeCanvas(id, place), {
    type: 'bar',
    data: { labels: ['kcal/mol'], datasets },
    options: {
      responsive: false,
      animation: false,
      events: [],
      plugins: { legend: { display: false }, tooltip: { enabled: false } },
      scales: { x: edgeAxis('bottom'), x2: edgeAxis('top'), y: leftAxis, y2: rightAxis },
    },
  });
}

// ---------- Panels ----------
const arrowSets = [
  { data: toPoints(arrowShaft, false), showLine: true, borderColor: '#111', borderWidth: 1.6, pointRadius: 0, order: 1 },
  { data: toPoints(arrowHead, true), showLine: true, fill: 'shape', backgroundColor: '#111', borderColor: '#111', borderWidth: 1, pointRadius: 0, order: 0 },
];

contourChart('chartA', contoursA, yRangeA, { x: 0, y: 0, w: 400, h: 405 }, { left: 86, right: 33, top: 43, bottom: 37 }, arrowSets);
contourChart('chartB', contoursB, yRange, { x: 390, y: 0, w: 350, h: 405 }, { left: 49, right: 20, top: 43, bottom: 37 });
contourChart('chartC', contoursC, yRange, { x: 0, y: 400, w: 400, h: 405 }, { left: 86, right: 33, top: 42, bottom: 39 });
contourChart('chartD', contoursD, yRange, { x: 390, y: 400, w: 350, h: 405 }, { left: 48, right: 22, top: 41, bottom: 39 });
colorBar('barTop', { x: 745, y: 0, w: 55, h: 405 }, { left: 3, right: 30, top: 43, bottom: 37 });
colorBar('barBottom', { x: 744, y: 400, w: 56, h: 405 }, { left: 3, right: 31, top: 41, bottom: 39 });
</script>
</body>
</html>
